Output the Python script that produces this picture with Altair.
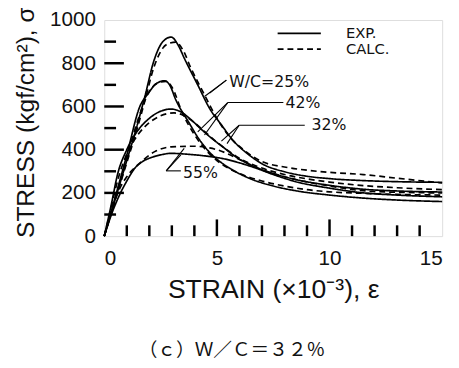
import altair as alt
import pandas as pd

# ---- data (strain x10^-3, stress kgf/cm2) ----
wc25_exp_x = [0, 0.5, 1.0, 1.4, 1.8, 2.2, 2.6, 2.97, 3.3, 3.55, 4.13, 4.71, 5.2, 5.7, 6.4, 7.0, 8, 9, 10, 11.5, 13, 15]
wc25_exp_y = [0, 175, 350, 490, 645, 810, 900, 921, 880, 824, 704, 585, 515, 445, 378, 335, 298, 277, 266, 257, 252, 249]
wc25_calc_x = [0, 0.5, 1, 1.4, 1.8, 2.2, 2.6, 2.9, 3.18, 3.5, 3.84, 4.42, 5, 5.6, 6.2, 7, 8, 9, 10, 11.5, 13, 15]
wc25_calc_y = [0, 170, 340, 475, 625, 780, 870, 893, 898, 860, 779, 660, 545, 455, 398, 345, 320, 305, 295, 285, 268, 246]

wc42_exp_x = [0, 0.5, 1, 1.58, 1.95, 2.3, 2.67, 2.9, 3.18, 3.76, 4.2, 4.7, 5.2, 5.8, 6.5, 7.5, 8.5, 10, 11.5, 13, 15]
wc42_exp_y = [0, 185, 375, 600, 660, 705, 719, 700, 630, 525, 450, 385, 340, 300, 265, 232, 210, 190, 176, 167, 160]
wc42_calc_x = [0, 0.5, 1, 1.5, 2, 2.4, 2.75, 3.0, 3.47, 4, 4.5, 5, 5.5, 6, 7, 8, 9, 10, 11.5, 13, 15]
wc42_calc_y = [0, 180, 360, 540, 670, 710, 716, 690, 570, 470, 400, 350, 315, 290, 255, 232, 215, 205, 198, 193, 190]

wc32_exp_x = [0, 0.3, 0.6, 1.0, 1.5, 2.0, 2.5, 2.97, 3.4, 3.84, 4.3, 4.8, 5.3, 5.8, 6.7, 7.5, 8.5, 10, 11.5, 13, 15]
wc32_exp_y = [0, 140, 290, 400, 490, 545, 578, 588, 575, 540, 495, 450, 410, 370, 320, 290, 262, 235, 217, 209, 204]
wc32_calc_x = [0, 0.3, 0.6, 1.0, 1.5, 2.0, 2.5, 3.1, 3.5, 4.0, 4.5, 5.0, 5.5, 6.0, 7.0, 8, 9, 10, 11.5, 13, 15]
wc32_calc_y = [0, 130, 260, 380, 470, 525, 557, 570, 560, 525, 480, 435, 395, 360, 315, 285, 265, 250, 234, 224, 215]

wc55_exp_x = [0, 0.3, 0.64, 1.0, 1.37, 1.7, 2.09, 2.5, 2.97, 3.69, 4.71, 5.44, 6.0, 6.7, 7.5, 8.5, 10, 11.5, 13, 15]
wc55_exp_y = [0, 95, 182, 255, 316, 345, 364, 376, 383, 379, 368, 355, 339, 316, 285, 252, 222, 200, 190, 182]
wc55_calc_x = [0, 0.3, 0.6, 1.0, 1.59, 2.24, 2.97, 3.98, 4.56, 5.0, 5.44, 6, 6.7, 7.5, 8.5, 10, 11.5, 13, 15]
wc55_calc_y = [0, 110, 200, 275, 339, 391, 413, 416, 410, 400, 383, 355, 320, 290, 262, 232, 210, 203, 200]

# annotation labels and leader lines (data units)
label_text = ["W/C=25%", "42%", "32%", "55%"]
label_x = [5.55, 8.05, 9.2, 3.5]
label_y = [712, 615, 513, 294]
leader_id = ["a", "a", "b", "b", "c", "c", "d", "d", "e", "e", "f", "f", "g", "g", "h", "h", "i", "i"]
leader_x = [5.42, 4.45, 5.42, 4.68, 5.48, 7.95, 5.48, 4.15, 5.48, 4.45, 5.99, 8.9, 5.99, 5.2, 5.99, 5.45, 2.75, 3.4]
leader_y = [722, 646, 722, 662, 618, 618, 618, 482, 618, 468, 513, 513, 513, 440, 513, 428, 302, 302]
leader2_id = ["j", "j", "k", "k"]
leader2_x = [2.75, 3.4, 2.75, 3.55]
leader2_y = [302, 376, 302, 406]

x_major_ticks = [5, 10]
x_minor_ticks = [1, 2, 3, 4, 6, 7, 8, 9, 11, 12, 13, 14]
y_major_ticks = [200, 400, 600, 800]
y_minor_ticks = [100, 300, 500, 700, 900]

legend_order = ["EXP.", "CALC."]

# ---- build tables ----
rows = []
for wc, kind, xs_, ys_ in [
    ("25", "EXP.", wc25_exp_x, wc25_exp_y), ("25", "CALC.", wc25_calc_x, wc25_calc_y),
    ("42", "EXP.", wc42_exp_x, wc42_exp_y), ("42", "CALC.", wc42_calc_x, wc42_calc_y),
    ("32", "EXP.", wc32_exp_x, wc32_exp_y), ("32", "CALC.", wc32_calc_x, wc32_calc_y),
    ("55", "EXP.", wc55_exp_x, wc55_exp_y), ("55", "CALC.", wc55_calc_x, wc55_calc_y),
]:
    for i, (a, b) in enumerate(zip(xs_, ys_)):
        rows.append({"series": wc + kind, "type": kind, "strain": a, "stress": b, "order": i})
curves = pd.DataFrame(rows)

leaders = pd.DataFrame({
    "id": leader_id + leader2_id,
    "strain": leader_x + leader2_x,
    "stress": leader_y + leader2_y,
})
labels = pd.DataFrame({"text": label_text, "strain": label_x, "stress": label_y})

FONT = "Liberation Sans"
W, H = 344, 220

xs = alt.Scale(domain=[0, 15], nice=False)
ys = alt.Scale(domain=[0, 1000], nice=False)

x_axis = alt.Axis(values=[0, 5, 10, 15], format="d", tickSize=0, domain=False, grid=False,
                  labelFont=FONT, labelFontSize=21, labelPadding=12, labelColor="#111",
                  title="STRAIN (×10⁻³), ε", titleFont=FONT, titleFontSize=27,
                  titleFontWeight="normal", titlePadding=8, titleColor="#111")
y_axis = alt.Axis(values=[0, 200, 400, 600, 800, 1000], format="d", tickSize=0, domain=False, grid=False,
                  labelFont=FONT, labelFontSize=21, labelPadding=9, labelColor="#111",
                  title="STRESS (kgf/cm²), σ", titleFont=FONT, titleFontSize=25,
                  titleFontWeight="normal", titleX=-80, titleY=104, titleAlign="center",
                  titleBaseline="middle", titleColor="#111")

lines = alt.Chart(curves).mark_line(color="black", strokeWidth=1.7, interpolate="monotone").encode(
    x=alt.X("strain:Q", scale=xs, axis=x_axis),
    y=alt.Y("stress:Q", scale=ys, axis=y_axis),
    detail="series:N",
    order="order:Q",
    strokeDash=alt.StrokeDash(
        "type:N",
        scale=alt.Scale(domain=legend_order, range=[[1, 0], [6, 4]]),
        legend=alt.Legend(orient="none", legendX=191, legendY=6, title=None,
                          symbolType="M-4,0H4", symbolSize=121, symbolStrokeWidth=1.8,
                          symbolStrokeColor="black", symbolFillColor="transparent",
                          labelFont="DejaVu Sans", labelFontSize=15, labelOffset=40,
                          rowPadding=0, padding=0, symbolOffset=0, labelColor="#111"),
    ),
)

leader_lines = alt.Chart(leaders).mark_line(color="black", strokeWidth=1.1).encode(
    x="strain:Q", y="stress:Q", detail="id:N"
)

label_marks = alt.Chart(labels).mark_text(
    align="left", baseline="middle", font="DejaVu Sans", fontSize=16, color="#111"
).encode(x="strain:Q", y="stress:Q", text="text:N")

xmaj = alt.Chart(pd.DataFrame({"v": x_major_ticks})).mark_rule(color="black", strokeWidth=2.5).encode(
    x="v:Q", y=alt.value(H), y2=alt.value(H - 17))
xmin = alt.Chart(pd.DataFrame({"v": x_minor_ticks})).mark_rule(color="black", strokeWidth=2.5).encode(
    x="v:Q", y=alt.value(H), y2=alt.value(H - 11))
ymaj = alt.Chart(pd.DataFrame({"v": y_major_ticks})).mark_rule(color="black", strokeWidth=2.5).encode(
    y="v:Q", x=alt.value(0), x2=alt.value(20))
ymin = alt.Chart(pd.DataFrame({"v": y_minor_ticks})).mark_rule(color="black", strokeWidth=2.5).encode(
    y="v:Q", x=alt.value(0), x2=alt.value(12))

chart = alt.layer(lines, leader_lines, label_marks, xmaj, xmin, ymaj, ymin).properties(
    width=W, height=H,
    autosize=alt.AutoSizeParams(type="none"),
    padding={"left": 98, "top": 9, "right": 9, "bottom": 131},
    title=alt.TitleParams(text="（ｃ）Ｗ／Ｃ＝３２％", orient="bottom", font="Noto Sans CJK JP",
                          fontSize=19, fontWeight="normal", offset=40, dx=-42, color="#111"),
).configure_view(stroke="black", strokeWidth=2.2).configure(background="white")

chart.save("out.html", embed_options={"renderer": "svg", "actions": False})
